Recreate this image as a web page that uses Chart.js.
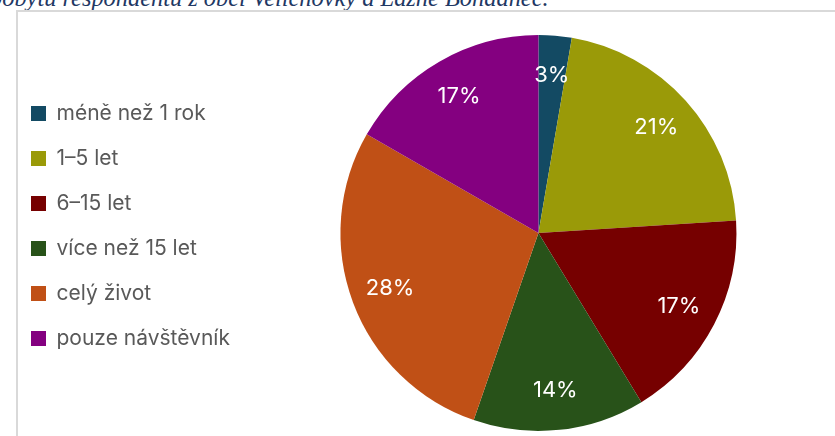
<!DOCTYPE html>
<html>
<head>
<meta charset="utf-8">
<script src="https://cdn.jsdelivr.net/npm/chart.js@4/dist/chart.umd.min.js"></script>
<style>
  html, body { margin: 0; padding: 0; background: #fff; overflow: hidden; }
  body { width: 835px; height: 436px; position: relative; }
  #caption {
    position: absolute; left: -10px; top: -14px; white-space: nowrap; line-height: 24px;
    font-family: "Liberation Serif", serif; font-style: italic; font-size: 24.4px;
    color: #1f3864;
  }
  #frame {
    position: absolute; left: 16px; top: 10px; width: 840px; height: 440px;
    border-left: 2px solid #d9d9d9; border-top: 2px solid #d9d9d9; box-sizing: border-box;
  }
  #wrap { position: absolute; left: 7px; top: 10px; width: 890px; height: 426px; }
</style>
</head>
<body>
<div id="caption">pobytu respondentů z obcí Velichovky a Lázně Bohdaneč.</div>
<div id="frame"></div>
<div id="wrap"><canvas id="pie"></canvas></div>
<script>
const labels = ['méně než 1 rok', '1–5 let', '6–15 let', 'více než 15 let', 'celý život', 'pouze návštěvník'];
const shares = [2.7, 21.3, 17.3, 14.0, 28.0, 16.7];
const colors = ['#134a63', '#9a9a08', '#760000', '#285219', '#c05016', '#840080'];

const FONT = '"Inter", "Noto Sans", sans-serif';

// percent labels drawn inside each slice at 80 % of the radius
const sliceLabels = {
    id: 'sliceLabels',
    afterDatasetsDraw(chart) {
        const ctx = chart.ctx;
        const meta = chart.getDatasetMeta(0);
        ctx.save();
        ctx.font = `22px ${FONT}`;
        ctx.fillStyle = '#ffffff';
        ctx.textAlign = 'center';
        ctx.textBaseline = 'middle';
        meta.data.forEach((arc, i) => {
            const { x, y, startAngle, endAngle, outerRadius } = arc.getProps(['x', 'y', 'startAngle', 'endAngle', 'outerRadius'], true);
            const mid = (startAngle + endAngle) / 2;
            const r = outerRadius * 0.8;
            ctx.fillText(`${Math.round(shares[i])}%`, x + Math.cos(mid) * r, y + Math.sin(mid) * r);
        });
        ctx.restore();
    }
};

// legend sits a little higher than the pie centre in the original
const nudgeLegend = {
    id: 'nudgeLegend',
    afterLayout(chart) {
        chart.legend.top -= 7;
        chart.legend.bottom -= 7;
    }
};

new Chart(document.getElementById('pie'), {
    type: 'pie',
    data: {
        labels,
        datasets: [{
            data: shares,
            backgroundColor: colors,
            borderWidth: 0
        }]
    },
    options: {
        responsive: true,
        maintainAspectRatio: false,
        animation: false,
        layout: { padding: { top: 25, bottom: 5, left: 0, right: 60 } },
        plugins: {
            tooltip: { enabled: false },
            legend: {
                position: 'left',
                labels: {
                    boxWidth: 15,
                    boxHeight: 15,
                    padding: 24,
                    color: '#595959',
                    font: { family: FONT, size: 21 }
                }
            }
        }
    },
    plugins: [sliceLabels, nudgeLegend]
});
</script>
</body>
</html>
